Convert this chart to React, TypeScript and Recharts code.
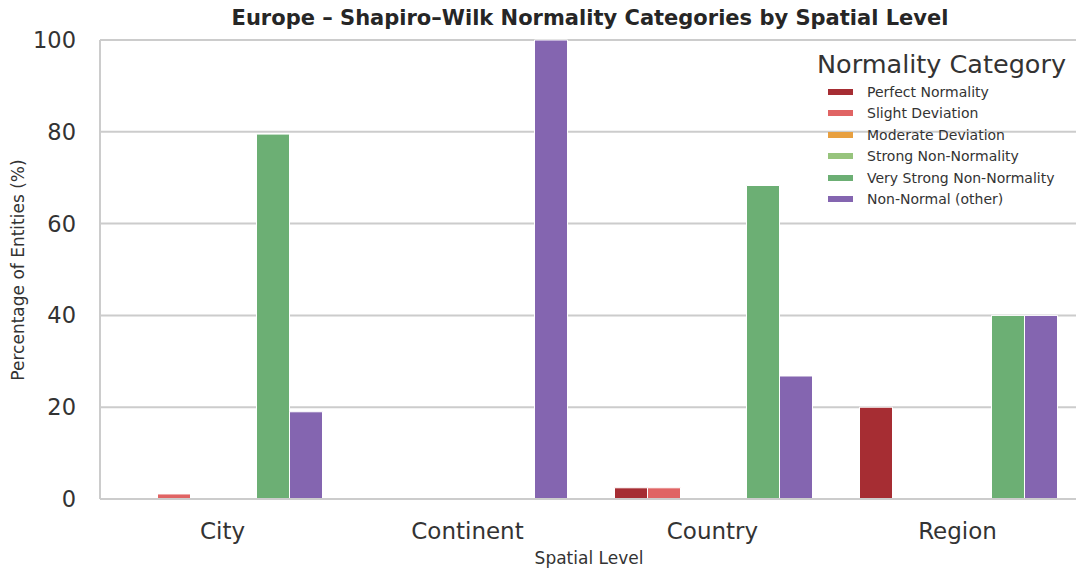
import React from "react";
import { BarChart, Bar, XAxis, YAxis, CartesianGrid } from "recharts";

const levels = ["City", "Continent", "Country", "Region"];
const perfectNormality = [0, 0, 2.44, 20];
const slightDeviation = [1.1, 0, 2.44, 0];
const moderateDeviation = [0, 0, 0, 0];
const strongNonNormality = [0, 0, 0, 0];
const veryStrongNonNormality = [79.5, 0, 68.3, 40];
const nonNormalOther = [19.0, 100, 26.8, 40];
const yTicks = [0, 20, 40, 60, 80, 100];

const seriesNames = [
  "Perfect Normality",
  "Slight Deviation",
  "Moderate Deviation",
  "Strong Non-Normality",
  "Very Strong Non-Normality",
  "Non-Normal (other)",
];
const seriesValues = [
  perfectNormality,
  slightDeviation,
  moderateDeviation,
  strongNonNormality,
  veryStrongNonNormality,
  nonNormalOther,
];
const seriesColors = ["#a62d33", "#e06464", "#e8a040", "#97c47d", "#6caf74", "#8465b0"];

const data = levels.map((level, i) => {
  const row: Record<string, any> = { level };
  seriesNames.forEach((n, s) => {
    row[n] = seriesValues[s][i];
  });
  return row;
});

const font = "'DejaVu Sans', sans-serif";

const LegendBox = () => (
  <div
    style={{
      position: "absolute",
      left: 817,
      top: 47,
      width: 260,
      fontFamily: font,
      color: "#333",
    }}
  >
    <div style={{ fontSize: 25.5, lineHeight: "34px", marginBottom: 0, whiteSpace: "nowrap" }}>
      Normality Category
    </div>
    {seriesNames.map((n, i) => (
      <div key={n} style={{ display: "flex", alignItems: "center", height: 21.5 }}>
        <div
          style={{
            width: 25,
            height: 6,
            background: seriesColors[i],
            marginLeft: 11,
            marginRight: 14,
          }}
        />
        <span style={{ fontSize: 14, whiteSpace: "nowrap" }}>{n}</span>
      </div>
    ))}
  </div>
);

export default function App() {
  return (
    <div
      style={{
        position: "absolute",
        left: 0,
        top: 0,
        width: 1076,
        height: 570,
        overflow: "hidden",
        background: "#fff",
      }}
    >
      <div style={{ position: "absolute", left: 0, top: 0 }}>
        <BarChart
          width={1090}
          height={570}
          data={data}
          margin={{ top: 40, right: 10, left: 0, bottom: 0 }}
          barCategoryGap="10%"
          barGap={0}
        >
          <CartesianGrid vertical={false} stroke="#cccccc" strokeWidth={2} />
          <XAxis
            dataKey="level"
            height={71}
            tickLine={false}
            tickSize={0}
            tickMargin={24}
            axisLine={{ stroke: "#cccccc", strokeWidth: 2 }}
            tick={{ fontFamily: font, fontSize: 23, fill: "#333" }}
          />
          <YAxis
            width={100}
            domain={[0, 100]}
            ticks={yTicks}
            tickLine={false}
            tickSize={0}
            tickMargin={24}
            axisLine={{ stroke: "#cccccc", strokeWidth: 2 }}
            tick={{ fontFamily: font, fontSize: 22.5, fill: "#333" }}
          />
          {seriesNames.map((n, i) => (
            <Bar
              key={n}
              dataKey={n}
              fill={seriesColors[i]}
              stroke="#ffffff"
              strokeWidth={1}
              isAnimationActive={false}
            />
          ))}
        </BarChart>
      </div>
      <div
        style={{
          position: "absolute",
          left: 0,
          width: 1180,
          top: 6,
          textAlign: "center",
          fontFamily: font,
          fontWeight: "bold",
          fontSize: 21,
          color: "#262626",
          whiteSpace: "nowrap",
        }}
      >
        Europe – Shapiro–Wilk Normality Categories by Spatial Level
      </div>
      <div
        style={{
          position: "absolute",
          left: 18,
          top: 270,
          transform: "translate(-50%, -50%) rotate(-90deg)",
          fontFamily: font,
          fontSize: 17,
          color: "#333",
          whiteSpace: "nowrap",
        }}
      >
        Percentage of Entities (%)
      </div>
      <div
        style={{
          position: "absolute",
          left: 0,
          width: 1178,
          top: 548,
          textAlign: "center",
          fontFamily: font,
          fontSize: 17,
          color: "#333",
          whiteSpace: "nowrap",
        }}
      >
        Spatial Level
      </div>
      <LegendBox />
    </div>
  );
}
